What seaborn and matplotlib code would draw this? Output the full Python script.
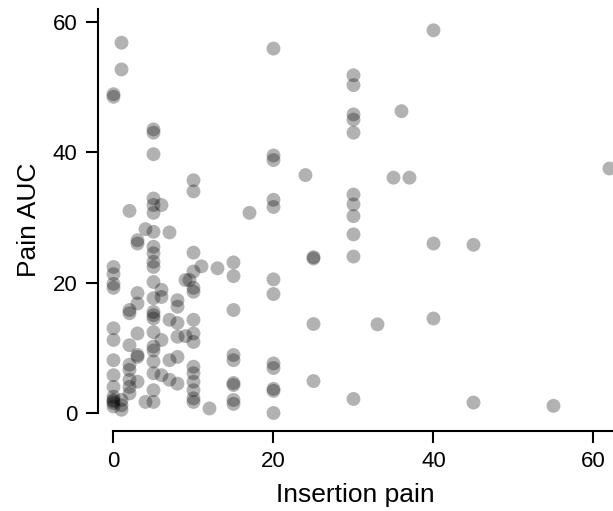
import matplotlib
matplotlib.use("Agg")
import matplotlib.pyplot as plt
import seaborn as sns
import pandas as pd

# Insertion pain score and pain AUC per participant, grouped by insertion score
insertion_pain = (
    [0] * 16 + [1] * 5 + [2] * 9 + [3] * 8 + [4] * 2 + [5] * 23 + [6] * 5
    + [7] * 4 + [8] * 6 + [9] * 2 + [9.5] + [10] * 15 + [11] + [12] + [13]
    + [15] * 9 + [17] + [20] * 12 + [24] + [25] * 4 + [30] * 11 + [33]
    + [35] + [36] + [37] + [40] * 3 + [45] * 2 + [55] + [62]
)
pain_auc = [
    # 0
    48.5, 48.9, 22.4, 21.3, 19.8, 19.2, 13.0, 11.2, 8.1, 5.8, 4.0, 2.5, 1.8, 1.0, 1.5, 2.0,
    # 1
    56.8, 52.7, 0.5, 1.2, 2.0,
    # 2
    31.0, 15.8, 15.3, 10.4, 7.4, 6.6, 5.1, 4.0, 3.0,
    # 3
    26.5, 26.0, 18.4, 16.8, 12.2, 8.9, 8.6, 4.8,
    # 4
    28.2, 1.7,
    # 5
    43.5, 43.0, 39.7, 32.9, 31.9, 30.7, 27.8, 25.5, 24.5, 23.2, 22.4, 20.1,
    17.6, 15.5, 15.0, 14.5, 12.4, 10.2, 9.6, 7.9, 6.1, 3.5, 1.7,
    # 6
    31.9, 18.9, 17.8, 11.2, 5.8,
    # 7
    27.7, 14.3, 8.1, 5.1,
    # 8
    17.3, 16.3, 13.8, 11.7, 8.6, 4.5,
    # 9
    20.4, 11.8,
    # 9.5
    20.4,
    # 10
    35.7, 34.0, 24.6, 21.7, 19.2, 18.6, 14.3, 12.2, 10.9, 7.1, 6.1, 4.8, 3.5, 2.25, 1.7,
    # 11, 12, 13
    22.5, 0.7, 22.2,
    # 15
    23.1, 21.0, 15.8, 8.9, 8.1, 4.6, 4.3, 2.0, 1.4,
    # 17
    30.7,
    # 20
    55.9, 39.5, 38.8, 32.7, 31.6, 20.5, 18.25, 7.6, 6.9, 3.7, 3.4, 0.0,
    # 24
    36.5,
    # 25
    23.9, 23.7, 13.65, 4.9,
    # 30
    51.8, 50.3, 45.8, 45.0, 43.0, 33.5, 32.0, 30.2, 27.4, 24.0, 2.15,
    # 33, 35, 36, 37
    13.6, 36.1, 46.3, 36.1,
    # 40
    58.7, 26.0, 14.5,
    # 45
    25.8, 1.6,
    # 55, 62
    1.1, 37.5,
]
x_ticks = [0, 20, 40, 60]
y_ticks = [0, 20, 40, 60]

df = pd.DataFrame({"Insertion pain": insertion_pain, "Pain AUC": pain_auc})

sns.set_style("ticks")
plt.rcParams["font.family"] = ["Liberation Sans", "DejaVu Sans"]
plt.rcParams["text.color"] = "black"
plt.rcParams["axes.labelcolor"] = "black"
plt.rcParams["xtick.color"] = "black"
plt.rcParams["ytick.color"] = "black"

fig = plt.figure(figsize=(6.13, 5.11), dpi=100)
ax = fig.add_axes([97.5 / 613, 80 / 511, 515.5 / 613, 422.2 / 511])

sns.scatterplot(
    data=df, x="Insertion pain", y="Pain AUC", ax=ax,
    color="black", alpha=0.3, s=100, linewidth=0, edgecolor="none",
)

ax.set_xlim(-2, 62.44)
ax.set_ylim(-2.76, 62.0)
ax.set_xticks(x_ticks)
ax.set_yticks(y_ticks)
ax.tick_params(axis="both", length=8.6, width=1.5, labelsize=16, pad=6,
               color="black", labelcolor="black")
for side in ("top", "right"):
    ax.spines[side].set_visible(False)
ax.spines["left"].set_bounds(0, 62.0)
ax.spines["bottom"].set_bounds(0, 62.44)
for side in ("left", "bottom"):
    ax.spines[side].set_linewidth(1.5)
    ax.spines[side].set_color("black")

ax.set_xlabel("Insertion pain", fontsize=19, labelpad=8, color="black")
ax.set_ylabel("Pain AUC", fontsize=19, labelpad=8, color="black")

fig.savefig("out.png", dpi=100)
